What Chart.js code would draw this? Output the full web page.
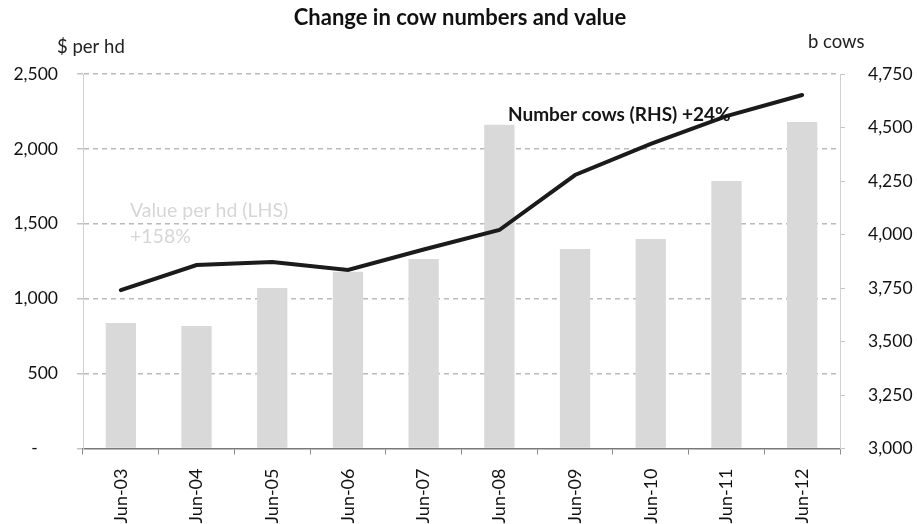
<!DOCTYPE html>
<html>
<head>
<meta charset="utf-8">
<script src="https://cdn.jsdelivr.net/npm/chart.js@4"></script>
<style>
  html, body { margin: 0; padding: 0; background: #fff; }
  #wrap { width: 917px; height: 524px; }
</style>
</head>
<body>
<div id="wrap"><canvas id="cows" width="917" height="524"></canvas></div>
<script>
// Chart data
const categories = ['Jun-03', 'Jun-04', 'Jun-05', 'Jun-06', 'Jun-07', 'Jun-08', 'Jun-09', 'Jun-10', 'Jun-11', 'Jun-12'];
const valuePerHead = [838, 818, 1071, 1180, 1265, 2162, 1332, 1398, 1786, 2180];   // $ per hd (LHS)
const cowNumbers = [3740, 3857, 3871, 3834, 3930, 4021, 4278, 4423, 4553, 4652];    // b cows (RHS)
const leftTicks = { min: 0, max: 2500, step: 500 };
const rightTicks = { min: 3000, max: 4750, step: 250 };

const FONT = 'Lato';

/**
 * Title, axis captions and the two series notes, drawn as canvas text.
 */
const captions = {
    id: 'captions',
    afterDraw(chart) {
        const ctx = chart.ctx;
        ctx.save();
        ctx.textBaseline = 'middle';

        ctx.fillStyle = '#111';
        ctx.textAlign = 'center';
        ctx.font = 'bold 22px ' + FONT;
        ctx.fillText('Change in cow numbers and value', 460, 18);

        ctx.textAlign = 'left';
        ctx.font = '18.5px ' + FONT;
        ctx.fillStyle = '#222';
        ctx.fillText('$ per hd', 57, 47);
        ctx.fillText('b cows', 808, 42);

        ctx.font = 'bold 19px ' + FONT;
        ctx.fillStyle = '#151515';
        ctx.fillText('Number cows (RHS) +24%', 508, 115);

        ctx.font = '19.5px ' + FONT;
        ctx.fillStyle = '#d6d6d6';
        ctx.fillText('Value per hd (LHS)', 130, 211);
        ctx.fillText('+158%', 130, 237);
        ctx.restore();
    }
};

new Chart(document.getElementById('cows'), {
    type: 'bar',
    data: {
        labels: categories,
        datasets: [
            {
                type: 'line',
                label: 'Number cows (RHS)',
                data: cowNumbers,
                yAxisID: 'yRight',
                borderColor: '#1b1b1b',
                borderWidth: 4,
                borderCapStyle: 'round',
                tension: 0,
                pointRadius: 0,
                order: 0
            },
            {
                label: 'Value per hd (LHS)',
                data: valuePerHead,
                yAxisID: 'yLeft',
                backgroundColor: '#d9d9d9',
                categoryPercentage: 1,
                barPercentage: 0.4,
                order: 1
            }
        ]
    },
    options: {
        responsive: false,
        animation: false,
        devicePixelRatio: 1,
        layout: { padding: { top: 74, left: 0, right: 0, bottom: 0 } },
        plugins: {
            legend: { display: false },
            title: { display: false },
            tooltip: { enabled: false }
        },
        scales: {
            x: {
                afterFit(scale) { scale.height = 75.5; },
                grid: { display: true, drawOnChartArea: false, drawTicks: true, tickLength: 6, color: '#8a8a8a', tickBorderDash: [] },
                border: { display: true, color: '#7a7a7a', width: 1.5 },
                ticks: { minRotation: 90, maxRotation: 90, padding: 14, color: '#111', font: { family: FONT, size: 18 } }
            },
            yLeft: {
                position: 'left',
                min: leftTicks.min,
                max: leftTicks.max,
                afterFit(scale) { scale.width = 83; },
                ticks: {
                    stepSize: leftTicks.step,
                    padding: 19,
                    color: '#111',
                    font: { family: FONT, size: 17.5 },
                    // Excel accounting style puts a dash where the zero goes
                    callback: (v) => v === 0 ? '-\u2007\u2007' : v.toLocaleString('en-US')
                },
                grid: {
                    drawTicks: true,
                    tickLength: 6,
                    lineWidth: 1.5,
                    color: (c) => c.tick && c.tick.value === 0 ? 'rgba(0,0,0,0)' : '#bababa',
                    tickColor: '#c4c4c4',
                    tickBorderDash: []
                },
                border: { display: true, color: '#d0d0d0', width: 1, dash: [5, 4] }
            },
            yRight: {
                position: 'right',
                min: rightTicks.min,
                max: rightTicks.max,
                afterFit(scale) { scale.width = 77; },
                ticks: {
                    stepSize: rightTicks.step,
                    padding: 23,
                    color: '#111',
                    font: { family: FONT, size: 17.5 }
                },
                grid: { drawOnChartArea: false, drawTicks: true, tickLength: 5, color: '#c4c4c4', tickBorderDash: [] },
                border: { display: true, color: '#d0d0d0', width: 1 }
            }
        }
    },
    plugins: [captions]
});
</script>
</body>
</html>
